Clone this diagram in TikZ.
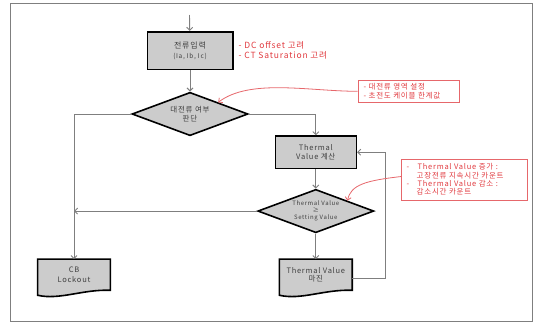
\documentclass[tikz,border=0pt]{standalone}
\usepackage{fontspec}
\setmainfont{Noto Sans CJK KR}[LetterSpace=10]
\usetikzlibrary{positioning, arrows.meta, shapes.geometric, calc, backgrounds}

\definecolor{linegray}{HTML}{7F7F7F}
\definecolor{boxgray}{HTML}{CCCCCC}
\definecolor{textgray}{HTML}{404040}
\definecolor{notered}{HTML}{E0393E}
\definecolor{noteline}{HTML}{E6676B}

\newcommand{\docshape}[1]{%
  \draw[line width=1.6pt, fill=boxgray] (#1.north west) -- (#1.north east) -- (#1.south east)
    .. controls +(-28,-1) and +(22,5) .. ($(#1.south west)+(0,5)$) -- cycle;}

\begin{document}
\begin{tikzpicture}[
        x=1pt, y=-1pt,
        node distance=20pt,
        procbox/.style={draw, line width=1.6pt, fill=boxgray, text=textgray, align=center, inner sep=1pt},
        decision/.style={draw, diamond, aspect=2.67, line width=1.6pt, fill=boxgray, text=textgray, align=center, inner sep=0pt, minimum width=116pt, minimum height=43.4pt},
        docnode/.style={text=textgray, align=center, inner sep=1pt, minimum width=72.4pt, minimum height=30.7pt},
        remark/.style={draw=noteline, line width=0.9pt, text=notered, align=left},
        flow/.style={draw=linegray, line width=0.9pt, -{Straight Barb[length=3pt, width=6pt]}},
        redarrow/.style={draw=noteline, line width=0.8pt, -{Straight Barb[length=3pt, width=6pt]}}
    ]
    \useasboundingbox (0,0) rectangle (534,322);
    \draw[linegray, line width=0.8pt] (10,3.5) rectangle (532.5,321);

    \node[procbox, minimum width=85.4pt, minimum height=37.6pt, font=\fontsize{8}{10}\selectfont] (in) at (190,50.5) {전류입력\\{\fontsize{6.5}{10}\selectfont (Ia, Ib, Ic)}};
    \node[right=5pt of in, inner sep=0pt, align=left, text=notered, font=\fontsize{8.5}{10}\selectfont] (dcnote) {- DC offset 고려\\- CT Saturation 고려};

    \node[decision, below=21.4pt of in, font=\fontsize{7.5}{8.5}\selectfont] (judge) {대전류 여부\\판단};
    \node[procbox, minimum width=81pt, minimum height=32.3pt, font=\fontsize{7.5}{8.7}\selectfont] (calc) at (315.8,152.2) {Thermal\\Value 계산};
    \node[decision, below=19.4pt of calc, font=\fontsize{6}{7.3}\selectfont] (cmp) {Thermal Value\\≥\\Setting Value};
    \node[docnode, below=25.6pt of cmp, font=\fontsize{7.5}{8.3}\selectfont] (margin) {Thermal Value\\마진};
    \node[docnode, left=169pt of margin, font=\fontsize{7.5}{9.3}\selectfont] (cb) {CB\\Lockout};

    \node[remark, text width=90pt, inner xsep=5.5pt, minimum height=22.7pt, font=\fontsize{7.5}{9}\selectfont] (note1) at (408.5,91.3) {- 대전류 영역 설정\\- 초전도 케이블 한계값};
    \node[remark, text width=116pt, inner xsep=5pt, minimum height=41pt, font=\fontsize{7.5}{8.3}\selectfont] (note2) at (464.7,179.5) {\makebox[11pt][l]{-}Thermal Value 증가 :\\\hspace*{10pt}고장전류 지속시간 카운트\\\makebox[11pt][l]{-}Thermal Value 감소 :\\\hspace*{10pt}감소시간 카운트};

    \begin{scope}[on background layer]
        \docshape{margin}
        \docshape{cb}
    \end{scope}

    \coordinate (start) at (189.5,15);
    \coordinate (hit1) at ($(judge.north)!0.48!(judge.east)$);
    \coordinate (hit2) at ($(cmp.north)!0.54!(cmp.east)$);

    \draw[flow] (start) -- (in);
    \draw[flow] (in) -- (judge);
    \draw[flow] (judge.west) -| (cb.north);
    \draw[flow] (judge.east) -| (calc.north);
    \draw[flow] (calc) -- (cmp);
    \draw[flow] (cmp.west) -- (cmp.west -| cb.north);
    \draw[flow] (cmp) -- (margin);
    \draw[flow] ([yshift=-3.7pt]margin.east) -- ++(33.5,0) |- (calc.east);

    \draw[redarrow] (note1.west) .. controls +(-48,0) and +(32,-24) .. (hit1);
    \draw[redarrow] ([yshift=3pt]note2.west) .. controls +(-35,4) and +(3,-16) .. (hit2);
\end{tikzpicture}
\end{document}
